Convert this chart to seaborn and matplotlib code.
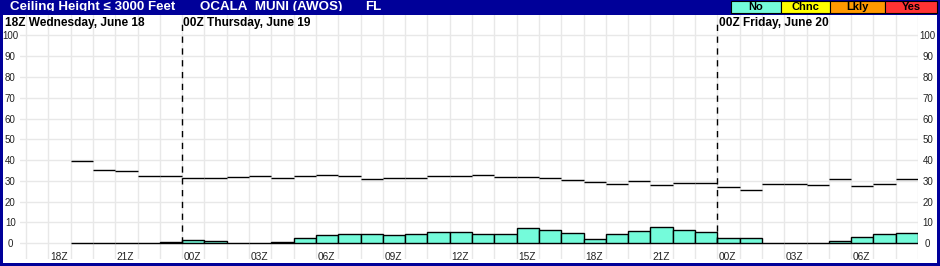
import matplotlib
matplotlib.use("Agg")
import matplotlib.pyplot as plt
import seaborn as sns
import numpy as np
import pandas as pd
from matplotlib.patches import Rectangle
from matplotlib.transforms import Bbox

# ---------------- data ----------------
title_left = "Ceiling Height \u2264 3000 Feet"
station = "OCALA_MUNI (AWOS)"
state = "FL"
legend_labels = ["No", "Chnc", "Lkly", "Yes"]
legend_colors = ["#74FBDA", "#FFFF00", "#FF9900", "#FF3333"]

day_labels = ["18Z Wednesday, June 18", "00Z Thursday, June 19", "00Z Friday, June 20"]
day_hours = [6, 30]  # hours after 18Z June 18 where a new day starts

tick_hours = [0, 3, 6, 9, 12, 15, 18, 21, 24, 27, 30, 33, 36]
tick_labels = ["18Z", "21Z", "00Z", "03Z", "06Z", "09Z", "12Z", "15Z",
               "18Z", "21Z", "00Z", "03Z", "06Z"]

# forecast hours (hours after 18Z June 18), 19Z Jun 18 .. 08Z Jun 20
hours = np.arange(1, 39)
no_pct = [0, 0, 0, 0, 0.5, 1.6, 1.1, 0, 0, 0.5,
          2.4, 3.9, 4.4, 4.4, 3.9, 4.4, 5.3, 5.3, 4.4, 4.4,
          7.3, 6.3, 4.8, 1.9, 4.4, 5.8, 7.7, 6.3, 5.3, 2.4,
          2.4, 0, 0, 0, 1.0, 2.9, 4.4, 4.8]
climo = [39.7, 35.3, 34.8, 32.4, 32.4, 31.3, 31.5, 31.9, 32.4, 31.5,
         32.4, 32.9, 32.4, 31.0, 31.5, 31.5, 32.4, 32.4, 32.9, 31.9,
         31.9, 31.5, 30.5, 29.5, 28.5, 30.0, 28.1, 29.0, 29.0, 27.1,
         25.6, 28.5, 28.5, 28.1, 31.0, 27.6, 28.5, 31.0]

df = pd.DataFrame({"hour": hours + 0.5, "no": no_pct})

# ---------------- style ----------------
sns.set_style("white")
plt.rcParams["font.family"] = ["Liberation Sans", "DejaVu Sans"]

W, H = 940, 266
BLUE = "#000099"
fig = plt.figure(figsize=(W / 100, H / 100), dpi=100, facecolor=BLUE)

# background / frame axes in pixel coordinates
bg = fig.add_axes([0, 0, 1, 1])
bg.set_xlim(0, W)
bg.set_ylim(H, 0)
bg.axis("off")
bg.add_patch(Rectangle((3, 15), 934, 248, facecolor="white", edgecolor="none", zorder=2))

# title texts
clip = Bbox([[0, H - 11.2], [W, H]])
for x, s in [(10, title_left), (200, station), (365, state)]:
    t = bg.text(x, 10.4, s, color="white", fontsize=9.6, fontweight="bold",
                ha="left", va="baseline", zorder=1)
    t.set_clip_on(True)
    t.set_clip_box(clip)

# legend boxes
edges = [730.7, 780.7, 830.0, 885.3, 936.7]
for i, (lab, col) in enumerate(zip(legend_labels, legend_colors)):
    bg.add_patch(Rectangle((edges[i], 1), edges[i + 1] - edges[i], 11.7,
                           facecolor=col, edgecolor="black", lw=0.8, zorder=3))
    bg.text((edges[i] + edges[i + 1]) / 2, 7.2, lab, ha="center", va="center",
            fontsize=8.0, fontweight="bold", color="black", zorder=4)

# ---------------- data axes ----------------
left_px, right_px, top_px, bot_px = 20, 918, 15, 259.3
ax = fig.add_axes([left_px / W, (H - bot_px) / H, (right_px - left_px) / W,
                   (bot_px - top_px) / H])
ax.set_facecolor("none")

sns.barplot(data=df, x="hour", y="no", native_scale=True, width=1.0,
            color=legend_colors[0], saturation=1, edgecolor="black",
            linewidth=1.0, errorbar=None, ax=ax, zorder=3)

ax.hlines(climo, hours, hours + 1, colors="black", lw=1.0, zorder=4)
ax.vlines(day_hours, 0, 107.5, colors="black", linestyles=(0, (4.5, 4)),
          lw=1.0, zorder=5)

ax.set_xlim(-1.27, 39)
ax.set_ylim(-7.7, 109.8)
ax.set_xticks(np.arange(-1, 40))
ax.set_yticks(np.arange(0, 101, 10))
ax.grid(True, color="#E8E8E8", lw=1.0)
ax.set_axisbelow(True)
ax.tick_params(axis="x", length=0, labelbottom=False)
ax.tick_params(axis="y", length=0, labelleft=True, labelright=True,
               labelsize=7, pad=7, labelcolor="#222222")
for t in ax.yaxis.get_major_ticks():
    t.label1.set_horizontalalignment("center")
    t.label2.set_horizontalalignment("center")
for sp in ax.spines.values():
    sp.set_visible(False)
ax.set_xlabel("")
ax.set_ylabel("")

for h, lab in zip(tick_hours, tick_labels):
    ax.text(h + 0.07, -7.9, lab, ha="left", va="baseline", fontsize=7.3,
            color="#222222")

ax.text(-1.95, 104.7, day_labels[0], ha="left", va="baseline", fontsize=8.6,
        fontweight="bold", color="black", clip_on=False)
for h, lab in zip(day_hours, day_labels[1:]):
    ax.text(h + 0.06, 104.7, lab, ha="left", va="baseline", fontsize=8.6,
            fontweight="bold", color="black", clip_on=False)

fig.savefig("out.png", dpi=100, facecolor=BLUE)
